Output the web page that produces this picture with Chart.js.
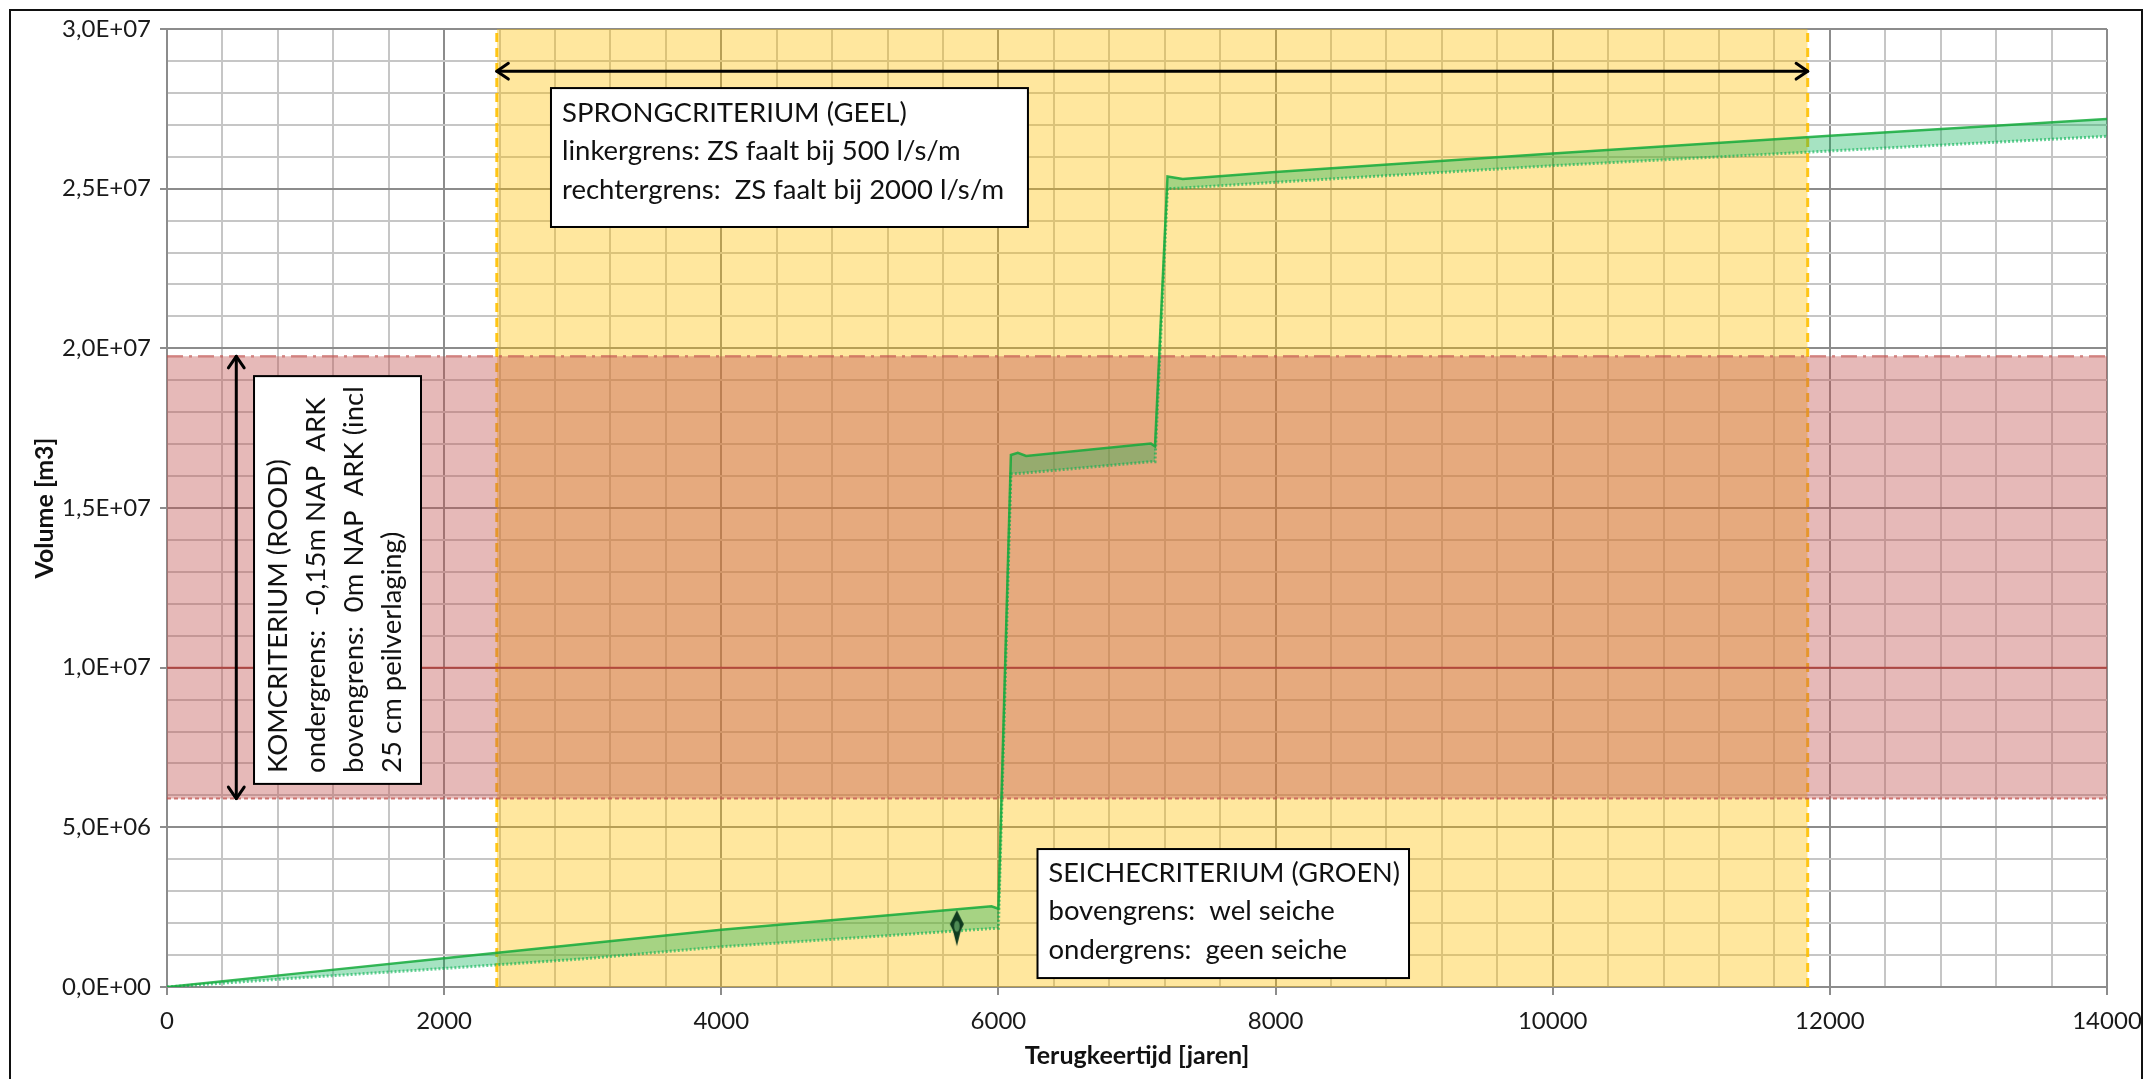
<!DOCTYPE html>
<html><head><meta charset="utf-8">
<script src="https://cdn.jsdelivr.net/npm/chart.js@4.4.1/dist/chart.umd.min.js"></script>
<style>
html,body{margin:0;padding:0;background:#fff;overflow:hidden}
#wrap{position:relative;width:2148px;height:1079px}
#frame{position:absolute;left:9px;top:9px;width:2134px;height:1100px;border:2px solid #111;box-sizing:border-box;pointer-events:none}
canvas{display:block}
</style></head><body>
<div id="wrap"><canvas id="c" width="2148" height="1079"></canvas><div id="frame"></div></div>
<script>
// ---------- DATA ----------
const jaren = [0,1000,2000,3000,4000,5000,5950,6000,6090,6140,6200,7100,7130,7220,7330,8000,10000,12000,14000];
const seicheBovengrens = [0,0.45e6,0.90e6,1.35e6,1.79e6,2.17e6,2.53e6,2.45e6,16.66e6,16.73e6,16.63e6,17.02e6,16.93e6,25.38e6,25.30e6,25.52e6,26.10e6,26.66e6,27.18e6];
const seicheOndergrens = [0,0.30e6,0.58e6,0.88e6,1.26e6,1.55e6,1.83e6,1.84e6,16.07e6,16.08e6,16.10e6,16.45e6,16.45e6,25.00e6,25.02e6,25.20e6,25.72e6,26.18e6,26.64e6];
const sprongGrenzen = [2380, 11840];        // linkergrens, rechtergrens [jaren]
const komGrenzen = [5.9e6, 1.975e7];        // ondergrens, bovengrens [m3]
const komMidden = [1.0e7];
const seicheMarker = [5700, 1.84e6];
const xTickLabels = [0,2000,4000,6000,8000,10000,12000,14000];
const yTickLabels = ['0,0E+00','5,0E+06','1,0E+07','1,5E+07','2,0E+07','2,5E+07','3,0E+07'];
const xBereik = [0, 14000];
const yBereik = [0, 3.0e7];
const sprongPijl = {x:[2380, 11840], y:2.868e7};
const komPijl = {x:500, y:[5.9e6, 1.975e7]};
const tekstSprong = ['SPRONGCRITERIUM (GEEL)','linkergrens: ZS faalt bij 500 l/s/m','rechtergrens:  ZS faalt bij 2000 l/s/m'];
const tekstSeiche = ['SEICHECRITERIUM (GROEN)','bovengrens:  wel seiche','ondergrens:  geen seiche'];
const tekstKom = ['KOMCRITERIUM (ROOD)','ondergrens:  -0,15m NAP  ARK','bovengrens:  0m NAP  ARK (incl','25 cm peilverlaging)'];
const kaderSprong = [2771, 28.15e6, 6213, 23.8e6];
const kaderSeiche = [6282, 4.32e6, 8963, 0.28e6];
const kaderKom = [628, 19.13e6, 1833, 6.36e6];

// ---------- HELPERS ----------
const pts = (xs, ys) => xs.map((x,i)=>({x, y: ys[i]}));
function diamond(){
  const c=document.createElement('canvas'); c.width=18; c.height=38;
  const g=c.getContext('2d');
  g.fillStyle='#0f3a1f';
  g.beginPath(); g.moveTo(9,1); g.lineTo(16,15); g.lineTo(13,21); g.lineTo(9,37); g.lineTo(5,21); g.lineTo(2,15); g.closePath(); g.fill();
  g.fillStyle='#4f8a55'; g.beginPath(); g.ellipse(9,17,2.8,5.5,0,0,Math.PI*2); g.fill();
  return c;
}
const FONT = 'Lato, "Open Sans", sans-serif';

function arrowHead(ctx, tx, ty, ang){
  const L=14, a=0.6;
  ctx.beginPath();
  ctx.moveTo(tx - L*Math.cos(ang-a), ty - L*Math.sin(ang-a));
  ctx.lineTo(tx, ty);
  ctx.lineTo(tx - L*Math.cos(ang+a), ty - L*Math.sin(ang+a));
  ctx.stroke();
}
function doubleArrow(ctx,x1,y1,x2,y2){
  ctx.save(); ctx.strokeStyle='#000'; ctx.lineWidth=3; ctx.lineCap='round'; ctx.lineJoin='round';
  ctx.beginPath(); ctx.moveTo(x1,y1); ctx.lineTo(x2,y2); ctx.stroke();
  const ang=Math.atan2(y2-y1,x2-x1);
  arrowHead(ctx,x2,y2,ang); arrowHead(ctx,x1,y1,ang+Math.PI);
  ctx.restore();
}
function box(ctx, x1,y1,x2,y2){
  ctx.save(); ctx.fillStyle='#fff'; ctx.strokeStyle='#000'; ctx.lineWidth=2;
  ctx.fillRect(x1,y1,x2-x1,y2-y1); ctx.strokeRect(x1,y1,x2-x1,y2-y1); ctx.restore();
}

const annotaties = {
  id:'annotaties',
  afterDatasetsDraw(chart){
    const {ctx, scales:{x,y}} = chart;
    doubleArrow(ctx, x.getPixelForValue(sprongPijl.x[0]), y.getPixelForValue(sprongPijl.y),
                     x.getPixelForValue(sprongPijl.x[1]), y.getPixelForValue(sprongPijl.y));
    doubleArrow(ctx, x.getPixelForValue(komPijl.x), y.getPixelForValue(komPijl.y[1]),
                     x.getPixelForValue(komPijl.x), y.getPixelForValue(komPijl.y[0]));
    const fs = '27.5px ' + FONT;
    // Sprong
    let b = kaderSprong.map((v,i)=> i%2===0 ? x.getPixelForValue(v) : y.getPixelForValue(v));
    box(ctx,b[0],b[1],b[2],b[3]);
    ctx.save(); ctx.font=fs; ctx.fillStyle='#111'; ctx.textBaseline='middle'; ctx.textAlign='left';
    tekstSprong.forEach((t,i)=>ctx.fillText(t, b[0]+11, b[1]+25+i*38.5));
    ctx.restore();
    // Seiche
    b = kaderSeiche.map((v,i)=> i%2===0 ? x.getPixelForValue(v) : y.getPixelForValue(v));
    box(ctx,b[0],b[1],b[2],b[3]);
    ctx.save(); ctx.font=fs; ctx.fillStyle='#111'; ctx.textBaseline='middle'; ctx.textAlign='left';
    tekstSeiche.forEach((t,i)=>{
      const w = ctx.measureText(t).width, maxW = b[2]-b[0]-20;
      ctx.save(); ctx.translate(b[0]+11, b[1]+24+i*38.5);
      if (w > maxW) ctx.scale(maxW/w, 1);
      ctx.fillText(t,0,0); ctx.restore();
    });
    ctx.restore();
    // Kom (rotated)
    b = kaderKom.map((v,i)=> i%2===0 ? x.getPixelForValue(v) : y.getPixelForValue(v));
    box(ctx,b[0],b[1],b[2],b[3]);
    ctx.save(); ctx.font=fs; ctx.fillStyle='#111'; ctx.textBaseline='middle'; ctx.textAlign='left';
    tekstKom.forEach((t,i)=>{
      ctx.save(); ctx.translate(b[0]+24+i*38, b[3]-11); ctx.rotate(-Math.PI/2); ctx.fillText(t,0,0); ctx.restore();
    });
    ctx.restore();
  }
};

const gridMajor = '#8C8C8C', gridMinor = '#C6C6C6';

new Chart(document.getElementById('c'), {
  type:'line',
  data:{ datasets:[
    { label:'sprong', data: pts(sprongGrenzen, [yBereik[1], yBereik[1]]), borderWidth:0, pointRadius:0,
      fill:'origin', backgroundColor:'rgba(255,192,0,0.38)', order:20 },
    { label:'sprong links', data: pts([sprongGrenzen[0],sprongGrenzen[0]],[yBereik[0],yBereik[1]]), borderColor:'rgba(255,192,0,0.9)',
      borderWidth:3, borderDash:[9,6], pointRadius:0, fill:false, order:19 },
    { label:'sprong rechts', data: pts([sprongGrenzen[1],sprongGrenzen[1]],[yBereik[0],yBereik[1]]), borderColor:'rgba(255,192,0,0.9)',
      borderWidth:3, borderDash:[9,6], pointRadius:0, fill:false, order:19 },
    { label:'kom ondergrens', data: pts(xBereik,[komGrenzen[0],komGrenzen[0]]), borderColor:'rgba(192,80,77,0.75)',
      borderWidth:2, borderDash:[4,3], pointRadius:0, fill:false, order:17 },
    { label:'kom bovengrens', data: pts(xBereik,[komGrenzen[1],komGrenzen[1]]), borderColor:'rgba(192,80,77,0.6)',
      borderWidth:2.5, borderDash:[16,6,3,6], pointRadius:0, fill:3, backgroundColor:'rgba(192,80,77,0.4)', order:18 },
    { label:'kom midden', data: pts(xBereik,[komMidden[0],komMidden[0]]), borderColor:'rgba(178,60,55,0.8)',
      borderWidth:2, pointRadius:0, fill:false, order:16 },
    { label:'geen seiche', data: pts(jaren, seicheOndergrens), borderColor:'rgba(0,176,80,0.6)',
      borderWidth:3, borderDash:[2,2], pointRadius:0, fill:false, tension:0, order:11 },
    { label:'wel seiche', data: pts(jaren, seicheBovengrens), borderColor:'rgba(20,170,60,0.85)',
      borderWidth:2.5, pointRadius:0, fill:6, backgroundColor:'rgba(0,176,80,0.35)', tension:0, order:10 },
    { label:'marker', data: pts([seicheMarker[0]],[seicheMarker[1]]), showLine:false, pointStyle: diamond(),
      pointRadius:10, order:1 }
  ]},
  options:{
    responsive:false, animation:false, devicePixelRatio:1,
    layout:{ padding:{ left:0, right:41, top:29, bottom:0 } },
    plugins:{ legend:{display:false}, tooltip:{enabled:false} },
    scales:{
      x:{ type:'linear', min:xBereik[0], max:xBereik[1],
        afterFit:s=>{ s.height = 92; s.paddingLeft = 0; s.paddingRight = 0; },
        ticks:{ stepSize:400, autoSkip:false, maxRotation:0, padding:12,
          font:{family:FONT, size:24}, color:'#1a1a1a',
          callback:v=> xTickLabels.includes(v) ? String(v) : '' },
        grid:{ lineWidth:2, tickLength:8,
          color:c=> (c.tick && c.tick.value % 2000 === 0) ? gridMajor : gridMinor,
          tickColor:c=> (c.tick && c.tick.value % 2000 === 0) ? gridMajor : 'rgba(0,0,0,0)' },
        border:{ color:gridMajor, width:2 },
        title:{ display:true, text:'Terugkeertijd [jaren]', font:{family:FONT, size:25, weight:'bold'}, color:'#111', padding:{top:0,bottom:8} }
      },
      y:{ type:'linear', min:yBereik[0], max:yBereik[1],
        afterFit:s=>{ s.width = 167; s.paddingTop = 0; s.paddingBottom = 0; },
        ticks:{ stepSize:1e6, autoSkip:false, padding:9,
          font:{family:FONT, size:24}, color:'#1a1a1a',
          callback:v=> (v % 5e6 === 0) ? yTickLabels[Math.round(v/5e6)] : '' },
        grid:{ lineWidth:2, tickLength:7,
          color:c=> (c.tick && c.tick.value % 5e6 === 0) ? gridMajor : gridMinor,
          tickColor:c=> (c.tick && c.tick.value % 5e6 === 0) ? gridMajor : 'rgba(0,0,0,0)' },
        border:{ color:gridMajor, width:2 },
        title:{ display:true, text:'Volume [m3]', font:{family:FONT, size:25, weight:'bold'}, color:'#111', padding:{top:30,bottom:0} }
      }
    }
  },
  plugins:[annotaties]
});
</script>
</body></html>
